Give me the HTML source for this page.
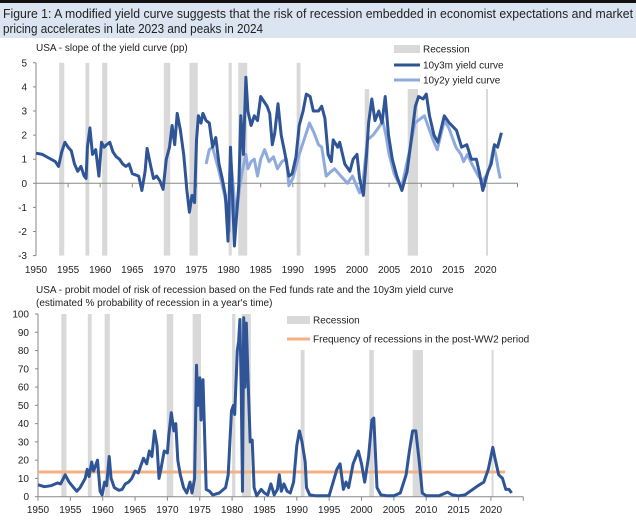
<!DOCTYPE html>
<html><head><meta charset="utf-8"><style>
html,body{margin:0;padding:0;background:#fff;}
svg{display:block;font-family:"Liberation Sans Narrow","Liberation Sans",sans-serif;}
</style></head><body>
<svg id="c" width="636" height="524" viewBox="0 0 636 524" xmlns="http://www.w3.org/2000/svg">
<rect x="0" y="0" width="636" height="3" fill="#111"/>
<rect x="0" y="3" width="636" height="35" fill="#dbe5f1"/>
<text x="3" y="18" font-size="13" fill="#1f1f1f" textLength="630" lengthAdjust="spacingAndGlyphs">Figure 1: A modified yield curve suggests that the risk of recession embedded in economist expectations and market</text>
<text x="3" y="33" font-size="13" fill="#1f1f1f" textLength="260" lengthAdjust="spacingAndGlyphs">pricing accelerates in late 2023 and peaks in 2024</text>
<text x="36" y="51" font-size="10" fill="#222">USA - slope of the yield curve (pp)</text>
<text x="36" y="293" font-size="10" fill="#222">USA - probit model of risk of recession based on the Fed funds rate and the 10y3m yield curve</text>
<text x="36" y="306" font-size="10" fill="#222">(estimated % probability of recession in a year's time)</text>
<g id="top"></g><g id="bot"></g>
</svg>
<script>
const recessions=[[1953.6,1954.4],[1957.7,1958.3],[1960.3,1961.1],[1969.9,1970.9],[1973.9,1975.2],[1980.0,1980.5],[1981.5,1982.9],[1990.6,1991.2],[2001.2,2001.9],[2007.9,2009.5],[2020.1,2020.3]];
const yearTicks=[1950,1955,1960,1965,1970,1975,1980,1985,1990,1995,2000,2005,2010,2015,2020];
const topYTicks=[5,4,3,2,1,0,-1,-2,-3];
const botYTicks=[100,90,80,70,60,50,40,30,20,10,0];
const s10y3mYears=[1950,1951,1952,1953,1953.5,1954,1954.5,1955,1955.5,1956,1956.5,1957,1957.5,1957.8,1958,1958.4,1958.8,1959.3,1959.8,1960.2,1960.6,1961,1961.5,1962,1962.5,1963,1963.5,1964,1964.5,1965,1965.5,1966,1966.5,1967,1967.3,1967.8,1968.3,1968.8,1969.3,1969.8,1970.3,1970.8,1971.2,1971.6,1972,1972.5,1973,1973.5,1973.9,1974.3,1974.7,1975,1975.3,1975.7,1976,1976.5,1977,1977.5,1978,1978.5,1979,1979.5,1979.9,1980.3,1980.6,1980.9,1981.2,1981.6,1981.9,1982.3,1982.7,1983,1983.5,1984,1984.5,1985,1985.5,1986,1986.4,1986.8,1987.2,1987.7,1988.2,1988.8,1989.4,1989.9,1990.5,1991,1991.6,1992.1,1992.7,1993.2,1994,1994.5,1995,1995.5,1996,1996.3,1997,1997.3,1998.1,1998.9,1999.4,2000,2000.4,2001,2001.5,2001.8,2002.3,2002.8,2003.4,2003.9,2004.4,2004.9,2005.5,2006.2,2007,2007.8,2008.3,2009.1,2009.6,2010.3,2010.8,2011.3,2012,2012.6,2013.6,2014.4,2015.5,2016.3,2017.1,2017.8,2018.6,2019.1,2019.6,2020.4,2020.9,2021.4,2021.9,2022.5];
const s10y3mValues=[1.25,1.2,1.05,0.9,0.7,1.3,1.7,1.5,1.35,0.8,0.5,0.7,0.3,0.2,1.5,2.3,1.2,1.4,0.3,1.7,1.5,1.6,1.7,1.3,1.1,1.0,0.8,0.7,0.8,0.4,0.35,0.3,-0.3,0.5,1.45,0.8,0.2,0.3,0.1,-0.25,1.0,1.5,2.4,1.6,2.9,2.2,1.2,-0.3,-1.2,-0.5,-0.8,1.8,2.8,2.5,2.9,2.6,2.5,1.5,1.9,0.8,0.2,-0.5,-2.4,1.5,-0.5,-2.6,-1.5,0,2.8,1.2,4.4,3.0,2.4,2.8,2.6,3.6,3.4,3.2,2.9,1.6,2.1,3.3,2.0,1.2,0.3,0.4,1.1,2.4,3.0,3.7,3.6,3.0,3.0,3.2,2.7,1.2,0.9,1.8,1.5,1.7,0.8,0.5,1.0,1.2,0.2,-0.5,1.2,2.5,3.5,2.6,3.0,2.5,3.6,2.0,1.0,0.3,-0.3,0.5,1.5,3.2,3.6,3.5,3.7,2.8,2.0,1.7,2.8,2.5,2.2,1.5,1.6,1.0,1.0,0.4,-0.3,0.5,0.8,1.6,1.5,2.1];
const s10y2yYears=[1976.5,1977,1977.5,1978,1978.5,1979.2,1979.6,1980.1,1980.4,1980.9,1981.2,1981.7,1982.2,1982.7,1983,1983.5,1984,1984.5,1985,1985.6,1986.3,1987,1987.6,1988.3,1989,1989.4,1990,1991,1992,1992.6,1993.3,1994,1994.5,1995.2,1996,1996.5,1997.5,1998.5,1999.3,2000.4,2001,2001.6,2002.5,2003.6,2004,2004.5,2005,2005.8,2006.5,2007,2007.5,2008.3,2009,2010,2010.5,2011.3,2012,2012.5,2013.6,2014.3,2015.4,2016.2,2016.6,2017.2,2017.9,2018.9,2019.5,2020.1,2020.6,2021.3,2021.6,2022.0,2022.3];
const s10y2yValues=[0.8,1.4,1.5,1.0,0.5,-0.3,-0.8,-2.0,0.8,-0.7,-1.4,-0.2,0.6,1.2,0.6,0.9,1.0,0.3,1.0,1.4,0.9,1.1,0.6,0.9,1.0,-0.1,0.2,1.2,2.0,2.5,2.1,1.6,1.5,0.3,0.5,0.6,0.3,0.0,0.3,-0.4,0.2,1.8,2.0,2.4,2.6,2.0,1.2,0.4,0,-0.1,0.5,1.5,2.5,2.7,2.8,2.2,1.7,1.4,2.6,2.3,1.5,1.2,0.9,1.2,0.8,0.3,0.1,0.3,0.6,1.5,1.2,0.6,0.2];
const probitYears=[1950,1951,1952,1953,1953.5,1954.2,1954.8,1955.5,1956,1956.5,1957.3,1957.6,1957.9,1958.3,1958.6,1959,1959.2,1959.6,1959.9,1960.3,1960.6,1961,1961.3,1961.8,1962.5,1963,1963.5,1964,1964.5,1965,1965.5,1966,1966.3,1966.8,1967.2,1967.6,1968,1968.4,1968.7,1969,1969.5,1970,1970.2,1970.6,1971,1971.3,1971.6,1972,1972.5,1973,1973.5,1973.8,1974.2,1974.5,1974.7,1975,1975.2,1975.5,1975.7,1976,1976.5,1977,1978,1979,1979.4,1979.9,1980.2,1980.4,1980.8,1981,1981.2,1981.4,1981.6,1981.8,1982,1982.2,1982.5,1982.8,1983.1,1983.4,1983.8,1984.5,1985,1985.5,1986,1986.5,1987,1987.3,1987.6,1988,1988.5,1989,1989.5,1990,1990.4,1990.8,1991.3,1991.5,1992,1993,1994,1995,1996.2,1996.7,1997.2,1997.6,1998,1998.7,1999.5,2000,2000.5,2001.1,2001.6,2001.9,2002.4,2003,2004,2005,2006,2006.9,2007.4,2007.9,2008.4,2008.9,2009.4,2010,2012,2013.3,2014,2015,2016,2017.2,2018,2018.9,2019.6,2020.3,2020.7,2021.2,2021.8,2022.3,2022.8,2023.2];
const probitValues=[6.5,5.5,6,7.5,7,12,8,5,3,5,10,15,11,19,14,18,20,3,1,8,6,22,10,5,3.5,4,7,8,10,14,13,18,21,18,25,22,36,28,10,15,25,24,33,46,36,40,20,12,5,2,8,2,10,72,50,65,42,64,40,4,3,1,2,5,12,47,50,45,80,85,97,60,3,98,60,95,60,30,31,5,0.5,4,2,1,7,1,4,12,3,7,3,2,8,28,36,30,19,5,1,0.5,0.5,0.5,15,18,4,8,5,18,25,18,8,22,42,43,5,1,0.5,0.5,2,12,25,36,36,20,2,0.5,0.5,2.5,1,0.5,1,4,6,8,15,27,20,12,10,4,4,2];
const postWarFrequency=[13.5];
const freqRange=[1950,2022.2];

const NS="http://www.w3.org/2000/svg";
function el(parent,tag,attrs){const e=document.createElementNS(NS,tag);for(const k in attrs)e.setAttribute(k,attrs[k]);parent.appendChild(e);return e;}

function chart(g,cfg){
  const X=y=>cfg.x0+(y-1950)*cfg.pxYr;
  const Y=v=>cfg.yZero-(v-cfg.vZero)*cfg.pxUnit;
  recessions.forEach((r,i)=>{
    const b=el(g,'rect',{x:X(r[0]),y:Y(cfg.vMax),width:Math.max(2,X(r[1])-X(r[0])),height:Y(cfg.vMin)-Y(cfg.vMax),fill:'#d9d9d9'});
    
    
  });
  // legend background masks bars
  const lb=el(g,'rect',cfg.legendBox);lb.setAttribute('fill','#fff');
  
  
  // axes
  const ya=el(g,'line',{x1:cfg.x0,x2:cfg.x0,y1:Y(cfg.vMax),y2:Y(cfg.vMin),stroke:'#888','stroke-width':1});
  
  
  const xa=el(g,'line',{x1:cfg.x0,x2:X(2025),y1:Y(cfg.vAxis),y2:Y(cfg.vAxis),stroke:'#888','stroke-width':1});
  
  
  cfg.yTicks.forEach(v=>{
    el(g,'line',{x1:cfg.x0-3,x2:cfg.x0,y1:Y(v),y2:Y(v),stroke:'#888'});
    const t=el(g,'text',{x:cfg.x0-9,y:Y(v)+3.5,'font-size':10,'text-anchor':'end',fill:'#222'});
    t.textContent=v;
    
    
  });
  yearTicks.concat([2025]).forEach(yr=>{
    el(g,'line',{x1:X(yr),x2:X(yr),y1:Y(cfg.vAxis),y2:Y(cfg.vAxis)+4,stroke:'#888'});
  });
  yearTicks.forEach(yr=>{
    const t=el(g,'text',{x:X(yr),y:cfg.xLabelY,'font-size':10,'text-anchor':'middle',fill:'#222'});
    t.textContent=yr;
    
    
  });
  return {X,Y};
}
function line(g,X,Y,xs,vs,color,w,name){
  const d=xs.map((x,i)=>(i?'L':'M')+X(x).toFixed(1)+','+Y(vs[i]).toFixed(1)).join('');
  const p=el(g,'path',{d:d,fill:'none',stroke:color,'stroke-width':w,'stroke-linejoin':'round'});
  
  
}
function legend(g,items){
  items.forEach(it=>{
    if(it.type==='rect'){el(g,'rect',{x:it.x,y:it.y-4,width:it.w,height:8,fill:it.c});}
    else{el(g,'line',{x1:it.x,x2:it.x+it.w,y1:it.y,y2:it.y,stroke:it.c,'stroke-width':3});}
    const t=el(g,'text',{x:it.x+it.w+3,y:it.y+3.5,'font-size':10,fill:'#222'});
    t.textContent=it.label;
    
    
  });
}
const gt=document.getElementById('top');
const T=chart(gt,{x0:36,pxYr:6.42,yZero:183.3,vZero:0,pxUnit:24.1,vMax:5,vMin:-3,vAxis:0,yTicks:topYTicks,xLabelY:273,legendBox:{x:355,y:40,width:180,height:49}});
line(gt,T.X,T.Y,s10y2yYears,s10y2yValues,'#8faadc',3,'series-10y2y');
line(gt,T.X,T.Y,s10y3mYears,s10y3mValues,'#2f5597',3,'series-10y3m');
legend(gt,[{type:'rect',x:394,y:49,w:26,c:'#d9d9d9',label:'Recession'},{type:'line',x:394,y:65,w:26,c:'#2f5597',label:'10y3m yield curve'},{type:'line',x:394,y:80,w:26,c:'#8faadc',label:'10y2y yield curve'}]);
const gb=document.getElementById('bot');
const B=chart(gb,{x0:38,pxYr:6.47,yZero:496.7,vZero:0,pxUnit:1.827,vMax:100,vMin:0,vAxis:0,yTicks:botYTicks,xLabelY:513,legendBox:{x:284,y:312,width:260,height:38}});
line(gb,B.X,B.Y,freqRange,[postWarFrequency[0],postWarFrequency[0]],'#f4b183',3,'post-ww2-frequency-line');
line(gb,B.X,B.Y,probitYears,probitValues,'#2f5597',3,'probit-series');
legend(gb,[{type:'rect',x:287,y:320,w:23,c:'#d9d9d9',label:'Recession'},{type:'line',x:287,y:339,w:23,c:'#f4b183',label:'Frequency of recessions in the post-WW2 period'}]);
</script>
</body></html>
